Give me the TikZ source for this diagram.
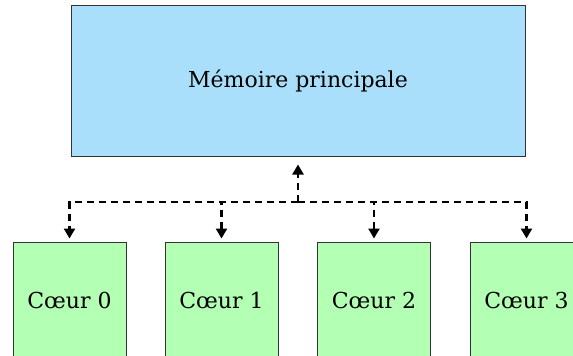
\documentclass[tikz,border=0pt]{standalone}
\usepackage{fontspec}
\setmainfont{DejaVu Serif}
\usepackage{tikz}
\usetikzlibrary{arrows.meta}
\definecolor{memColor}{HTML}{A9DFFA}
\definecolor{coreColor}{HTML}{B3FFB3}
\definecolor{edgeColor}{HTML}{333333}

\begin{document}
\begin{tikzpicture}[x=1pt, y=-1pt,
    box/.style={draw=edgeColor, line width=1pt, font=\fontsize{22}{24}\selectfont},
    link/.style={dashed, dash pattern=on 7pt off 5pt, line width=2.4pt, -{Triangle[length=10pt, width=11pt]}}]
    \useasboundingbox (0,0) rectangle (573,356);
    \clip (0,0) rectangle (573,356);
    \node[box, fill=memColor, minimum width=454pt, minimum height=151pt] (mem) at (298,80.5) {Mémoire principale};
    \foreach \i/\x in {0/69.5, 1/221.5, 2/374, 3/526.5}
        \node[box, fill=coreColor, minimum width=113pt, minimum height=116pt] (core\i) at (\x,300) {Cœur \i};
    \coordinate (bus) at (298,202);
    \draw[link, shorten >=8pt] (bus) -- (mem.south);
    \foreach \i in {0,...,3}
        \draw[link, shorten >=3pt] (bus) -| (core\i.north);
\end{tikzpicture}
\end{document}
